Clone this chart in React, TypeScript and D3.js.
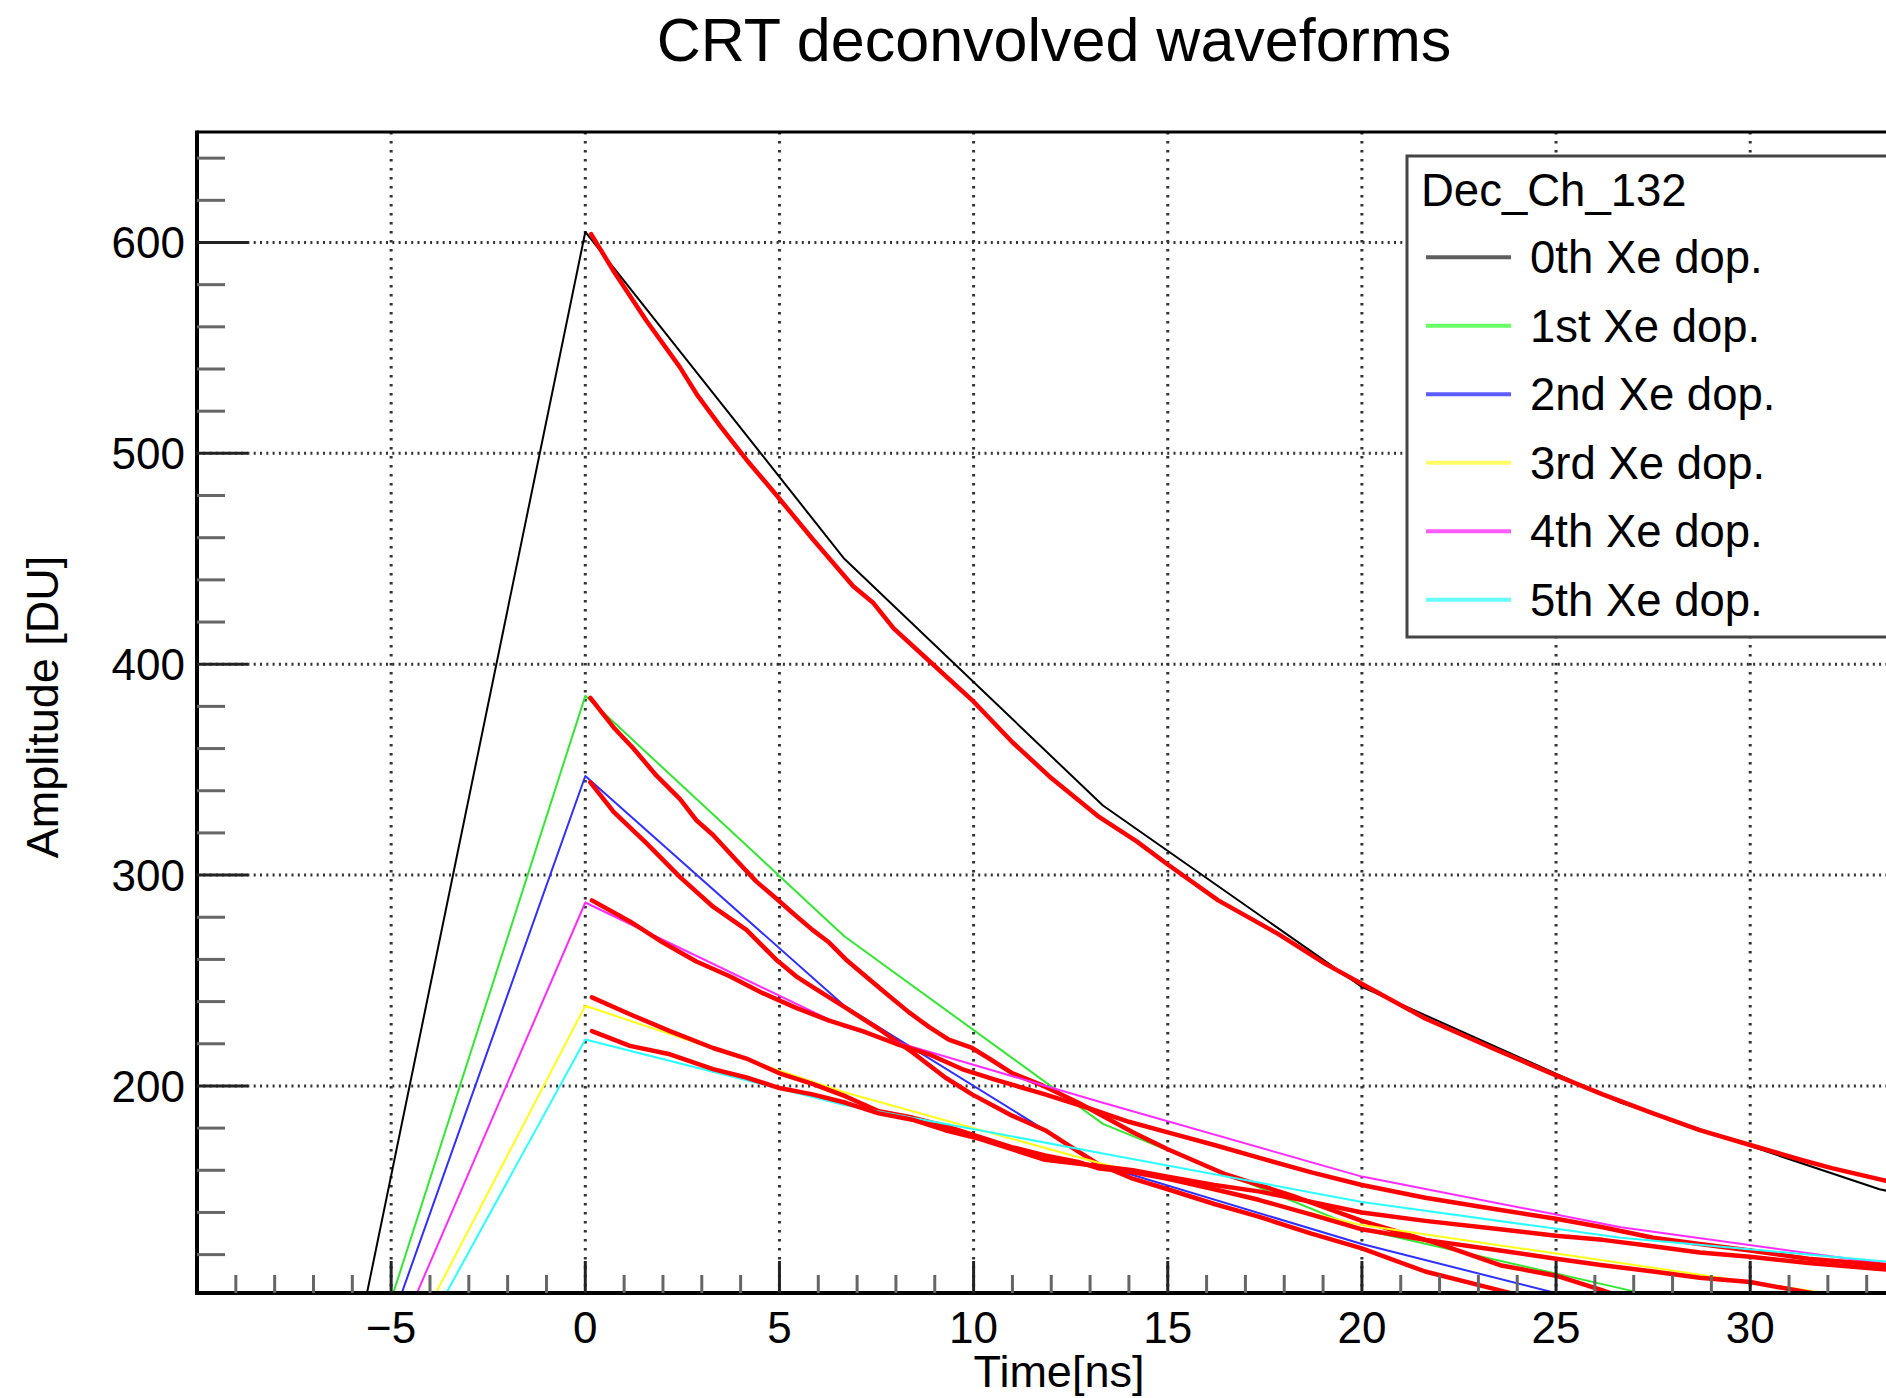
import React from "react";
import * as d3 from "d3";

// ---------- data ----------
const chartTitle = "CRT deconvolved waveforms";
const xTitle = "Time[ns]";
const yTitle = "Amplitude [DU]";
const legendHeader = "Dec_Ch_132";
const seriesLabels = ["0th Xe dop.", "1st Xe dop.", "2nd Xe dop.", "3rd Xe dop.", "4th Xe dop.", "5th Xe dop."];

const xMajorTicks = [-5, 0, 5, 10, 15, 20, 25, 30];
const yMajorTicks = [200, 300, 400, 500, 600];

// sampled waveforms (sample times in ns)
const sampleTimes = [-6.67, 0, 6.67, 13.33, 20, 26.67, 33.33, 40];
const wave0 = [8, 605, 450, 333, 247, 192, 151, 125];
const wave1 = [3, 385, 271, 182, 132, 104, 75, 60];
const wave2 = [1, 347, 238, 162, 125, 94, 80, 70];
const wave3 = [2, 238, 197, 163, 134, 116, 98, 85];
const wave4 = [2, 287, 228, 192, 157, 133, 116, 105];
const wave5 = [-2, 222, 191, 168, 145, 128, 117, 108];

// deconvolved (red) curves: [time, amplitude]
const fit0: [number, number][] = [[0.15,604],[0.71,587],[1.57,563],[2.43,541],[2.87,528],[3.47,513],[4.15,497],[4.93,480],[5.87,459],[6.9,437],[7.42,429],[7.94,417],[8.71,404],[9.96,383],[11,363],[12,346],[13.2,328],[14.2,316],[15,305],[16.3,288],[17.85,272],[19.05,258],[20.04,248],[21.63,232],[23.35,218],[25,205],[26.2,196],[27.5,187],[28.7,179],[30,172],[31.3,165],[32.1,161],[33.5,155],[34.5,151]];
const fit1: [number, number][] = [[0.13,384],[0.73,370],[1.24,360],[1.84,347],[2.44,336],[2.86,326],[3.29,319],[3.89,307],[4.4,297],[4.91,289],[5.34,282],[5.85,274],[6.28,268],[6.71,260],[7.22,252],[7.74,244],[8.33,235],[8.85,228],[9.36,222],[9.96,218],[10.4,213],[11,206],[11.8,200],[12.7,192],[13.2,187],[14.1,178],[15,170],[16.5,158],[18.2,148],[20,136],[22,125],[23.56,115],[25,110],[26.2,103],[27,98]];
const fit2: [number, number][] = [[0.13,344],[0.73,330],[1.58,315],[2.44,299],[3.29,285],[4.15,274],[4.91,260],[5.43,252],[5.85,247],[6.71,237],[7.56,227],[8.42,216],[9.27,204],[9.96,196],[10.98,186],[11.84,179],[12.69,169],[13.2,163],[14.1,156],[15,151],[16.2,144],[17.34,138],[18.7,130],[20,123],[21.63,112],[23.35,104],[24.2,100]];
const fit3: [number, number][] = [[0.17,242],[1.15,234],[2.18,226],[3.29,218],[4.15,213],[5,206],[5.85,201],[6.71,195],[7.56,188],[8.42,185],[9.27,181],[10.13,176],[10.98,171],[11.84,167],[12.69,164],[13.2,161],[14.1,159],[15,156],[16.2,151],[17.34,146],[18.7,139],[20,132],[21.63,127],[23.56,122],[25,118],[26.2,115],[27.5,112],[28.7,109],[30,107],[31.5,102],[32.5,99]];
const fit4: [number, number][] = [[0.17,288],[1.15,278],[2,268],[2.86,259],[3.72,252],[4.57,244],[5.43,237],[6.28,231],[7.14,226],[8,220],[8.85,215],[9.7,208],[10.55,203],[11.84,196],[13.04,189],[14,183],[15,178],[16.2,172],[17.34,166],[18.7,159],[20,153],[21.63,147],[23.45,141.5],[25,137],[26.2,133],[27.5,128],[28.7,125],[30,122],[31.5,118],[33.5,115],[34.5,113]];
const fit5: [number, number][] = [[0.17,226],[1.15,219],[2.18,215],[3.29,208],[4.15,204],[5,199],[5.85,196],[6.71,192],[7.56,187],[8.42,184],[9.27,179],[10.13,175],[10.98,170],[11.84,165],[13.2,162],[14.1,160],[15,157],[16.2,153],[17.34,150],[18.7,145],[20,140],[21.63,136],[23.56,132],[25,129],[26.2,127],[27.5,124],[28.7,121],[30,119],[31.5,116],[33.5,113],[34.5,112]];

const waves = [wave0, wave1, wave2, wave3, wave4, wave5];
const fits = [fit0, fit1, fit2, fit3, fit4, fit5];

// ---------- styles ----------
const lineColors = ["#000000", "#33e633", "#2f2fff", "#ffff1a", "#ff2cff", "#2cffff"];
const legendColors = ["#5e5e5e", "#66ff66", "#5c5cff", "#ffff66", "#ff5cff", "#66ffff"];
const FONT = "'Liberation Sans', Arial, Helvetica, sans-serif";

const W = 1886;
const H = 1398;
const left = 197;
const top = 132;
const bottom = 1293;

export default function App() {
  const x = d3.scaleLinear().domain([-10, 35]).range([left, left + 45 * 38.83]);
  const y = d3.scaleLinear().domain([101.8, 652.4]).range([bottom, top]);
  const right = x(35);

  const line = d3
    .line<[number, number]>()
    .x((d) => x(d[0]))
    .y((d) => y(d[1]));

  const xMinor = d3.range(-9, 35).filter((v) => v % 5 !== 0);
  const yMinor = d3.range(120, 652, 20).filter((v) => v % 100 !== 0);

  const legendRowY = (i: number) => 257.3 + 68.5 * i;

  return (
    <svg
      width={W}
      height={H}
      style={{ position: "absolute", left: 0, top: 0, background: "#fff" }}
      fontFamily={FONT}
    >
      <rect x={0} y={0} width={W} height={H} fill="#fff" />
      <defs>
        <clipPath id="plotClip">
          <rect x={left} y={top} width={right - left} height={bottom - top} />
        </clipPath>
      </defs>

      {/* title */}
      <text x={1054} y={61} textAnchor="middle" fontSize={61} fill="#000">
        {chartTitle}
      </text>

      {/* grid */}
      <g stroke="#333" fill="none">
        {xMajorTicks.map((t) => (
          <line key={"gx" + t} x1={x(t)} x2={x(t)} y1={top} y2={bottom} strokeWidth={3} strokeDasharray="2.5,6.5" />
        ))}
        {yMajorTicks.map((v) => (
          <line key={"gy" + v} x1={left} x2={right} y1={y(v)} y2={y(v)} strokeWidth={3} strokeDasharray="2,4.3" />
        ))}
      </g>

      {/* curves */}
      <g clipPath="url(#plotClip)" fill="none" strokeLinejoin="round" strokeLinecap="round">
        {waves.map((w, i) => (
          <g key={"s" + i}>
            <path
              d={line(sampleTimes.map((t, k) => [t, w[k]] as [number, number])) || ""}
              stroke={lineColors[i]}
              strokeWidth={2}
            />
            <path d={line(fits[i]) || ""} stroke="#ff0000" strokeWidth={4.5} />
          </g>
        ))}
      </g>

      {/* axes frame */}
      <line x1={left} x2={W + 10} y1={top} y2={top} stroke="#000" strokeWidth={3} />
      <line x1={left} x2={left} y1={top - 1.5} y2={bottom + 2} stroke="#000" strokeWidth={4} />
      <line x1={left - 2} x2={W + 10} y1={bottom} y2={bottom} stroke="#000" strokeWidth={4} />

      {/* x ticks */}
      {xMinor.map((t) => (
        <line key={"xm" + t} x1={x(t)} x2={x(t)} y1={bottom} y2={bottom - 18} stroke="#666" strokeWidth={3} />
      ))}
      {xMajorTicks.map((t) => (
        <line key={"xM" + t} x1={x(t)} x2={x(t)} y1={bottom} y2={bottom - 32} stroke="#222" strokeWidth={3} />
      ))}
      {xMajorTicks.map((t) => (
        <text key={"xl" + t} x={x(t)} y={1343} textAnchor="middle" fontSize={44} fill="#000">
          {t < 0 ? "\u2212" + Math.abs(t) : String(t)}
        </text>
      ))}

      {/* y ticks */}
      {yMinor.map((v) => (
        <line key={"ym" + v} x1={left} x2={left + 28} y1={y(v)} y2={y(v)} stroke="#666" strokeWidth={3} />
      ))}
      {yMajorTicks.map((v) => (
        <line key={"yM" + v} x1={left} x2={left + 51} y1={y(v)} y2={y(v)} stroke="#222" strokeWidth={3} />
      ))}
      {yMajorTicks.map((v) => (
        <text key={"yl" + v} x={185} y={y(v) + 16} textAnchor="end" fontSize={44} fill="#000">
          {v}
        </text>
      ))}

      {/* axis titles */}
      <text x={1059} y={1387} textAnchor="middle" fontSize={45} fill="#000">
        {xTitle}
      </text>
      <text
        transform={`translate(58,707) rotate(-90)`}
        textAnchor="middle"
        fontSize={45}
        fill="#000"
      >
        {yTitle}
      </text>

      {/* legend */}
      <rect x={1407} y={156} width={600} height={481} fill="#fff" stroke="#444" strokeWidth={3} />
      <text x={1421} y={206} fontSize={45.5} fill="#000">
        {legendHeader}
      </text>
      {seriesLabels.map((lab, i) => (
        <g key={"lg" + i}>
          <line
            x1={1426}
            x2={1511}
            y1={legendRowY(i)}
            y2={legendRowY(i)}
            stroke={legendColors[i]}
            strokeWidth={4}
          />
          <text x={1530} y={legendRowY(i) + 16} fontSize={45.5} fill="#000">
            {lab}
          </text>
        </g>
      ))}
    </svg>
  );
}
